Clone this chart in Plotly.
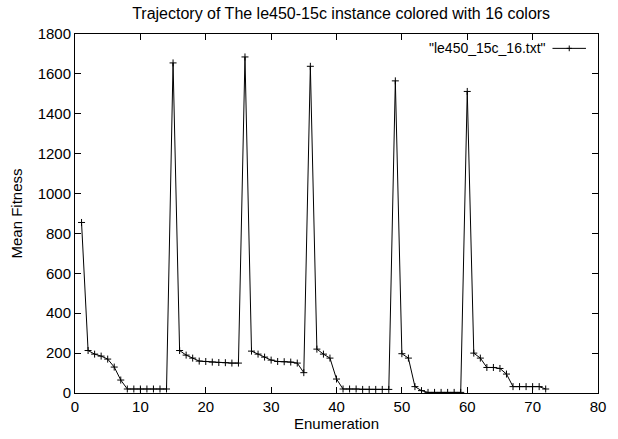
import plotly.graph_objects as go

enumeration = list(range(1, 73))
mean_fitness = [
    855, 213, 195, 185, 170, 130, 65, 20, 20, 20, 20, 20, 20, 20,
    1655, 213, 190, 175, 160, 158, 155, 153, 152, 150, 150,
    1685, 210, 195, 180, 165, 158, 157, 155, 150, 102,
    1638, 220, 195, 175, 70, 20, 20, 20, 18, 18, 18, 18, 18,
    1565, 197, 175, 32, 12, 3, 3, 3, 3, 3, 3,
    1512, 200, 175, 128, 128, 123, 95, 32, 32, 32, 32, 32, 20,
]
series_name = '"le450_15c_16.txt"'
title_text = "Trajectory of The le450-15c instance colored with 16 colors"
x_title = "Enumeration"
y_title = "Mean Fitness"

FONT = "Liberation Sans, Arial, sans-serif"

fig = go.Figure()
fig.add_trace(go.Scatter(
    x=enumeration, y=mean_fitness, mode="lines+markers", name=series_name,
    line=dict(color="black", width=1),
    marker=dict(symbol="cross-thin", size=5, line=dict(color="black", width=1)),
    showlegend=False,
))

axis_common = dict(
    showline=True, linecolor="black", linewidth=1, mirror="ticks",
    ticks="inside", ticklen=6, tickcolor="black", showgrid=False,
    zeroline=False, tickfont=dict(family=FONT, size=15, color="black"),
)
fig.update_xaxes(range=[0, 80], dtick=10,
                 title=dict(text=x_title, font=dict(family=FONT, size=15, color="black"), standoff=0),
                 **axis_common)
fig.update_yaxes(range=[0, 1800], dtick=200,
                 title=dict(text=y_title, font=dict(family=FONT, size=15, color="black"), standoff=11),
                 **axis_common)

# gnuplot-style key: text then line sample with marker on the right
fig.add_annotation(xref="paper", yref="paper", x=0.905, y=0.96, xanchor="right", yanchor="middle",
                   text=series_name, showarrow=False, font=dict(family=FONT, size=14, color="black"))
fig.add_shape(type="line", xref="paper", yref="paper", x0=0.913, x1=0.977, y0=0.96, y1=0.96,
              line=dict(color="black", width=1))
fig.add_shape(type="line", xref="paper", yref="paper", x0=0.940, x1=0.950, y0=0.96, y1=0.96,
              line=dict(color="black", width=1))
fig.add_shape(type="line", xref="paper", yref="paper", x0=0.945, x1=0.945, y0=0.952, y1=0.968,
              line=dict(color="black", width=1))

fig.update_layout(
    width=618, height=439,
    margin=dict(l=75, r=13, t=34, b=46),
    paper_bgcolor="white", plot_bgcolor="white",
    title=dict(text=title_text, x=0.552, xanchor="center", y=0.97, yanchor="middle",
               font=dict(family=FONT, size=16, color="black")),
    font=dict(family=FONT, color="black"),
)

fig.write_html("out.html", config={"displayModeBar": False},
               post_script="document.body.style.margin='0';document.body.style.overflow='hidden';")
